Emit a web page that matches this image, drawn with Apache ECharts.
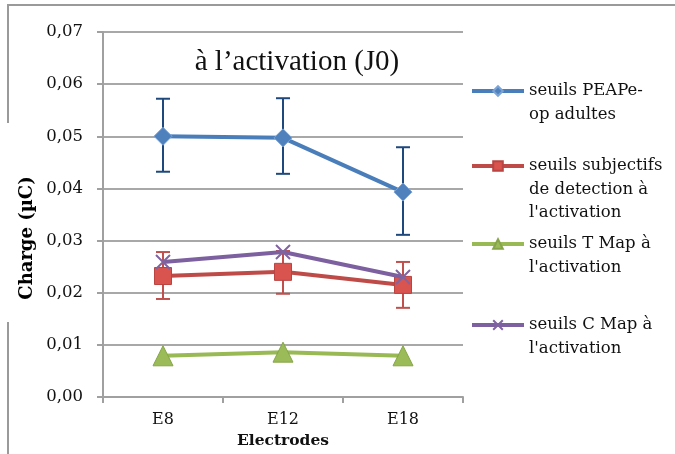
<!DOCTYPE html>
<html><head><meta charset="utf-8">
<script src="https://cdn.jsdelivr.net/npm/echarts@6/dist/echarts.min.js"></script>
<style>html,body{margin:0;padding:0;background:#fff}#c{width:675px;height:454px}</style>
</head><body><div id="c"></div>
<script>
const categories = ['E8', 'E12', 'E18'];
const peapValues = [0.0500, 0.0497, 0.0393];
const peapLow = [0.0432, 0.0428, 0.0311];
const peapHigh = [0.0572, 0.0573, 0.0479];
const subjValues = [0.0232, 0.0240, 0.0215];
const subjLow = [0.0188, 0.0198, 0.0171];
const subjHigh = [0.0278, 0.0280, 0.0259];
const tMapValues = [0.0079, 0.0086, 0.0079];
const cMapValues = [0.0259, 0.0278, 0.0230];
const seriesNames = ['seuils PEAPe-\nop adultes', 'seuils subjectifs\nde detection à\nl\'activation', 'seuils T Map à\nl\'activation', 'seuils C Map à\nl\'activation'];
const yTicks = [0, 0.01, 0.02, 0.03, 0.04, 0.05, 0.06, 0.07];

const times = 'Liberation Serif';
const serif = 'DejaVu Serif';
const LH = 23.5;
const chart = echarts.init(document.getElementById('c'));

function errBar(name, low, high, color) {
  return {
    type: 'custom', name: name + '_err', z: 1,
    data: categories.map((c, i) => [i, low[i], high[i]]),
    renderItem: function (params, api) {
      const x = api.value(0);
      const p1 = api.coord([x, api.value(1)]);
      const p2 = api.coord([x, api.value(2)]);
      const w = 7;
      const st = { stroke: color, lineWidth: 2 };
      return { type: 'group', children: [
        { type: 'line', shape: { x1: p1[0], y1: p1[1], x2: p2[0], y2: p2[1] }, style: st },
        { type: 'line', shape: { x1: p1[0] - w, y1: p1[1], x2: p1[0] + w, y2: p1[1] }, style: st },
        { type: 'line', shape: { x1: p2[0] - w, y1: p2[1], x2: p2[0] + w, y2: p2[1] }, style: st }
      ]};
    }
  };
}

function legendFor(name, iconY) {
  const n = name.split('\n').length;
  return {
    left: 470, top: iconY - (2 * n - 1) * LH / 2, padding: 0, itemWidth: 52, itemHeight: 12,
    itemGap: 0, data: [name],
    lineStyle: { width: 4 },
    formatter: nm => '\n'.repeat(n - 1) + nm,
    textStyle: { fontFamily: serif, fontSize: 16.5, color: '#111', lineHeight: LH }
  };
}

const option = {
  animation: false,
  backgroundColor: '#fff',
  title: {
    text: 'à l’activation (J0)', left: 292, top: 43, textAlign: 'center',
    textStyle: { fontFamily: times, fontSize: 29, fontWeight: 'normal', color: '#111' }
  },
  legend: [
    legendFor(seriesNames[0], 91),
    legendFor(seriesNames[1], 166),
    legendFor(seriesNames[2], 244),
    legendFor(seriesNames[3], 325)
  ],
  grid: { left: 103, right: 212, top: 32, bottom: 57 },
  xAxis: {
    type: 'category', data: categories, boundaryGap: true,
    name: 'Electrodes', nameLocation: 'middle', nameGap: 36,
    nameTextStyle: { fontFamily: serif, fontSize: 15.5, fontWeight: 'bold', color: '#111' },
    axisLine: { lineStyle: { color: '#a0a0a0', width: 2 } },
    axisTick: { show: true, length: 6, lineStyle: { color: '#a0a0a0', width: 2 } },
    axisLabel: { fontFamily: serif, fontSize: 16, color: '#111', margin: 15 }
  },
  yAxis: {
    type: 'value', min: 0, max: 0.07, interval: 0.01,
    axisLine: { show: true, lineStyle: { color: '#a0a0a0', width: 2 } },
    axisTick: { show: true, length: 6, lineStyle: { color: '#a0a0a0', width: 2 } },
    splitLine: { lineStyle: { color: '#a8a8a8', width: 2 } },
    axisLabel: { fontFamily: serif, fontSize: 16.5, color: '#111', margin: 20,
      formatter: v => yTicks.reduce((a, t) => Math.abs(t - v) < 1e-9 ? t : a, v).toFixed(2).replace('.', ',') }
  },
  series: [
    errBar('peap', peapLow, peapHigh, '#1f497d'),
    errBar('subj', subjLow, subjHigh, '#c0504d'),
    { type: 'line', name: seriesNames[0], data: peapValues, z: 3,
      lineStyle: { color: '#4a7ebb', width: 4 }, symbol: 'diamond', symbolSize: 18,
      itemStyle: { color: '#4f81bd', borderColor: '#7aa3d6', borderWidth: 1 } },
    { type: 'line', name: seriesNames[1], data: subjValues, z: 3,
      lineStyle: { color: '#be4b48', width: 4 }, symbol: 'rect', symbolSize: 17,
      itemStyle: { color: '#d9534f', borderColor: '#b94441', borderWidth: 1 } },
    { type: 'line', name: seriesNames[2], data: tMapValues, z: 3,
      lineStyle: { color: '#98b954', width: 4 }, symbol: 'triangle', symbolSize: 20,
      itemStyle: { color: '#9bbb59', borderColor: '#86a548', borderWidth: 1 } },
    { type: 'line', name: seriesNames[3], data: cMapValues, z: 4,
      lineStyle: { color: '#7d60a0', width: 4 }, symbol: 'path://M0,0 L10,10 M10,0 L0,10', symbolSize: 14,
      itemStyle: { color: '#8064a2', borderColor: '#8064a2', borderWidth: 2 } }
  ],
  graphic: [
    { type: 'line', shape: { x1: 7, y1: 5, x2: 675, y2: 5 }, style: { stroke: '#9a9a9a', lineWidth: 2 } },
    { type: 'line', shape: { x1: 8, y1: 5, x2: 8, y2: 123 }, style: { stroke: '#9a9a9a', lineWidth: 2 } },
    { type: 'line', shape: { x1: 8, y1: 322, x2: 8, y2: 454 }, style: { stroke: '#9a9a9a', lineWidth: 2 } },
    { type: 'text', x: 27, y: 238, rotation: Math.PI / 2,
      style: { text: 'Charge (µC)', fontFamily: serif, fontSize: 18, fontWeight: 'bold', fill: '#000',
        align: 'center', verticalAlign: 'middle' } }
  ]
};
chart.setOption(option);
</script></body></html>
